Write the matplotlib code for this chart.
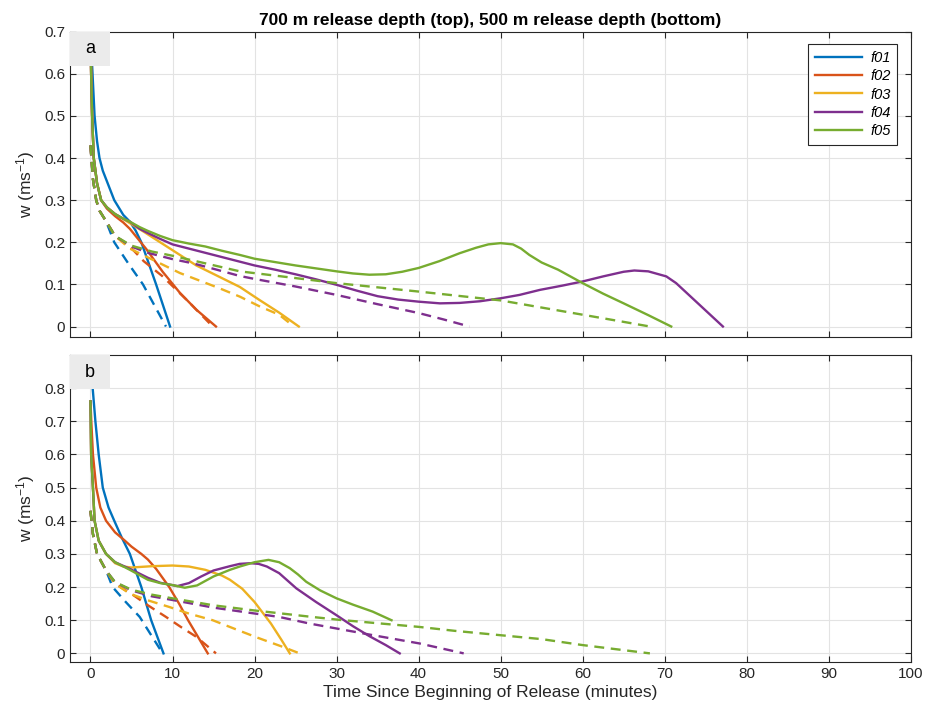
import numpy as np
import matplotlib
matplotlib.use("Agg")
import matplotlib.pyplot as plt
from matplotlib.patches import Rectangle

plt.rcParams['font.family'] = ['Liberation Sans', 'DejaVu Sans']
plt.rcParams['mathtext.fontset'] = 'custom'
plt.rcParams['mathtext.rm'] = 'Liberation Sans'
plt.rcParams['mathtext.default'] = 'regular'

# MATLAB default colours
colors = ['#0072BD', '#D95319', '#EDB120', '#7E2F8E', '#77AC30']
names = ['f01', 'f02', 'f03', 'f04', 'f05']

# ---- 700 m release depth (top panel) ----
# solid lines
t700_f01 = [0, 0.25, 0.5, 0.8, 1.1, 1.5, 2.0, 2.9, 4.0, 4.8, 5.5, 6.2, 8.0, 9.7]
w700_f01 = [0.70, 0.60, 0.50, 0.44, 0.40, 0.37, 0.345, 0.30, 0.265, 0.249, 0.228, 0.20, 0.10, 0.0]
t700_f02 = [0, 0.08, 0.2, 0.4, 0.8, 1.3, 2.0, 3.0, 4.0, 4.8, 5.8, 6.8, 8.8, 10.9, 12.9, 15.3]
w700_f02 = [0.70, 0.60, 0.50, 0.40, 0.34, 0.30, 0.28, 0.262, 0.247, 0.232, 0.208, 0.184, 0.13, 0.08, 0.04, 0.0]
t700_f03 = [0, 0.08, 0.2, 0.4, 0.8, 1.3, 2.0, 3.0, 4.0, 5.0, 6.5, 8.5, 10.5, 12.9, 15.5, 18.2, 20.6, 23.0, 25.4]
w700_f03 = [0.70, 0.60, 0.50, 0.40, 0.34, 0.30, 0.283, 0.267, 0.255, 0.243, 0.225, 0.20, 0.175, 0.145, 0.12, 0.094, 0.063, 0.033, 0.0]
t700_f04 = [0, 0.08, 0.2, 0.4, 0.8, 1.3, 2.0, 3.0, 4.0, 4.8, 6.0, 7.0, 8.5, 10, 12, 14, 16, 18.2, 20, 22.5, 25, 27.5,
            30, 32.5, 35, 37.5, 40, 42.6, 45, 47.5, 50, 52.3, 54.8, 57.5, 60, 62.5, 65, 66.3, 68, 70.2, 71.4, 74.5, 77.1]
w700_f04 = [0.70, 0.60, 0.50, 0.40, 0.34, 0.30, 0.283, 0.267, 0.256, 0.249, 0.232, 0.222, 0.208, 0.195, 0.185, 0.175,
            0.165, 0.154, 0.145, 0.135, 0.124, 0.112, 0.099, 0.085, 0.072, 0.064, 0.059, 0.055, 0.056, 0.06, 0.067,
            0.075, 0.087, 0.097, 0.107, 0.119, 0.13, 0.133, 0.131, 0.119, 0.103, 0.047, 0.0]
t700_f05 = [0, 0.08, 0.2, 0.4, 0.8, 1.3, 2.0, 3.0, 4.0, 4.8, 6.0, 7.0, 8.5, 10, 12, 14, 16, 18.2, 20, 22.5, 25, 27.5,
            30, 32, 34, 36, 38, 40, 42.5, 45, 47, 48.5, 50, 51.5, 52.5, 53.5, 55, 57, 60, 62.5, 65, 68, 70.8]
w700_f05 = [0.70, 0.60, 0.50, 0.40, 0.34, 0.30, 0.283, 0.267, 0.256, 0.249, 0.236, 0.227, 0.215, 0.205, 0.197, 0.19,
            0.18, 0.17, 0.161, 0.153, 0.145, 0.138, 0.131, 0.126, 0.123, 0.124, 0.13, 0.139, 0.155, 0.174, 0.187,
            0.195, 0.198, 0.195, 0.185, 0.17, 0.152, 0.135, 0.103, 0.078, 0.055, 0.027, 0.0]
# dashed lines
d700_t01 = [0, 0.3, 0.7, 1.1, 1.9, 2.9, 4.6, 6.4, 9.2]
d700_w01 = [0.43, 0.35, 0.30, 0.275, 0.25, 0.20, 0.15, 0.10, 0.0]
d700_t02 = [0, 0.3, 0.7, 1.1, 1.9, 3.0, 4.8, 6.5, 8.8, 12.1, 14.9]
d700_w02 = [0.43, 0.35, 0.30, 0.275, 0.25, 0.215, 0.19, 0.155, 0.119, 0.056, 0.0]
d700_t03 = [0, 0.3, 0.7, 1.1, 1.9, 3.0, 4.8, 6.8, 10.9, 15.7, 18.2, 20.6, 23.0, 24.8]
d700_w03 = [0.43, 0.35, 0.30, 0.275, 0.25, 0.215, 0.185, 0.166, 0.127, 0.091, 0.071, 0.048, 0.028, 0.0]
d700_t04 = [0, 0.3, 0.7, 1.1, 1.9, 3.0, 5.0, 7.0, 10, 12.5, 15, 18.2, 20, 25, 30, 35, 40, 43, 46.2]
d700_w04 = [0.43, 0.35, 0.30, 0.275, 0.25, 0.215, 0.19, 0.175, 0.16, 0.15, 0.137, 0.12, 0.113, 0.095, 0.075,
            0.053, 0.032, 0.017, 0.0]
d700_t05 = [0, 0.3, 0.7, 1.1, 1.9, 3.0, 5.0, 7.5, 10, 14, 18.2, 25, 30, 40, 50, 55, 60, 65, 68.2]
d700_w05 = [0.43, 0.35, 0.30, 0.275, 0.25, 0.215, 0.192, 0.178, 0.168, 0.15, 0.131, 0.115, 0.103, 0.083, 0.062,
            0.045, 0.028, 0.011, 0.0]

# ---- 500 m release depth (bottom panel) ----
t500_f01 = [0, 0.2, 0.6, 1.0, 1.5, 2.2, 2.9, 3.8, 4.8, 5.5, 6.2, 7.4, 8.9]
w500_f01 = [0.95, 0.82, 0.70, 0.60, 0.50, 0.44, 0.40, 0.35, 0.30, 0.25, 0.20, 0.10, 0.0]
t500_f02 = [0, 0.1, 0.3, 0.7, 1.2, 1.9, 3.0, 4.1, 5.0, 6.2, 7.0, 8.0, 9.6, 10.8, 11.9, 13.1, 14.3]
w500_f02 = [0.76, 0.70, 0.60, 0.50, 0.44, 0.40, 0.365, 0.342, 0.322, 0.30, 0.283, 0.255, 0.20, 0.15, 0.10, 0.05, 0.0]
t500_f03 = [0, 0.08, 0.3, 0.5, 1.0, 1.9, 3.0, 4.0, 5.0, 7.5, 10, 12, 14, 16, 17, 18.5, 20, 22, 23.3, 24.3]
w500_f03 = [0.76, 0.60, 0.50, 0.40, 0.34, 0.30, 0.272, 0.262, 0.259, 0.263, 0.265, 0.262, 0.252, 0.235, 0.222,
            0.195, 0.155, 0.09, 0.04, 0.0]
t500_f04 = [0, 0.08, 0.3, 0.5, 1.0, 1.9, 3.0, 4.8, 7.0, 8.5, 10.6, 12, 13.5, 15, 17, 18.2, 19.5, 20.5, 21.5, 23,
            25.1, 27.5, 30, 32, 34, 36, 37.7]
w500_f04 = [0.76, 0.60, 0.50, 0.40, 0.34, 0.30, 0.275, 0.255, 0.228, 0.213, 0.203, 0.212, 0.232, 0.25, 0.263, 0.27,
            0.272, 0.27, 0.262, 0.242, 0.196, 0.155, 0.115, 0.082, 0.052, 0.025, 0.0]
t500_f05 = [0, 0.08, 0.3, 0.5, 1.0, 1.9, 3.0, 4.8, 7.0, 8.5, 10, 11.5, 13, 15, 17, 18.2, 20, 21.7, 23, 24.3, 25.3,
            26.3, 28, 30, 32, 34.4, 36.7]
w500_f05 = [0.76, 0.60, 0.50, 0.40, 0.34, 0.30, 0.275, 0.252, 0.222, 0.212, 0.206, 0.198, 0.205, 0.232, 0.252, 0.262,
            0.275, 0.282, 0.275, 0.257, 0.238, 0.216, 0.19, 0.166, 0.147, 0.126, 0.10]
d500_t01 = [0, 0.3, 0.8, 1.9, 2.7, 4.3, 6.0, 8.8]
d500_w01 = [0.43, 0.36, 0.30, 0.25, 0.20, 0.155, 0.11, 0.0]
d500_t02 = [0, 0.3, 0.8, 1.9, 3.0, 5.2, 7.0, 9.2, 11.0, 12.9, 15.3]
d500_w02 = [0.43, 0.36, 0.30, 0.25, 0.21, 0.176, 0.145, 0.11, 0.08, 0.05, 0.0]
d500_t03 = [0, 0.3, 0.8, 1.9, 3.0, 4.8, 7.0, 9.6, 12.0, 14.9, 18.2, 20.4, 23.4, 25.5]
d500_w03 = [0.43, 0.36, 0.30, 0.25, 0.21, 0.18, 0.16, 0.14, 0.12, 0.10, 0.068, 0.047, 0.02, 0.0]
d500_t04 = [0, 0.3, 0.8, 1.9, 3.0, 5.0, 7.5, 10, 15, 19.8, 23, 26.7, 30, 34.4, 40.1, 45.5]
d500_w04 = [0.43, 0.36, 0.30, 0.25, 0.215, 0.19, 0.172, 0.161, 0.138, 0.121, 0.11, 0.09, 0.075, 0.055, 0.03, 0.0]
d500_t05 = [0, 0.3, 0.8, 1.9, 3.0, 5.0, 7.5, 10, 15, 19.8, 27, 30.4, 40, 44.4, 49.9, 55, 60, 68.2]
d500_w05 = [0.43, 0.36, 0.30, 0.25, 0.215, 0.192, 0.177, 0.166, 0.145, 0.13, 0.11, 0.101, 0.08, 0.068, 0.055,
            0.043, 0.025, 0.0]

top_solid = [(t700_f01, w700_f01), (t700_f02, w700_f02), (t700_f03, w700_f03), (t700_f04, w700_f04), (t700_f05, w700_f05)]
top_dash = [(d700_t01, d700_w01), (d700_t02, d700_w02), (d700_t03, d700_w03), (d700_t04, d700_w04), (d700_t05, d700_w05)]
bot_solid = [(t500_f01, w500_f01), (t500_f02, w500_f02), (t500_f03, w500_f03), (t500_f04, w500_f04), (t500_f05, w500_f05)]
bot_dash = [(d500_t01, d500_w01), (d500_t02, d500_w02), (d500_t03, d500_w03), (d500_t04, d500_w04), (d500_t05, d500_w05)]

fig = plt.figure(figsize=(9.28, 7.13), dpi=100)
ax1 = fig.add_axes([0.0754, 0.5273, 0.9060, 0.4282])
ax2 = fig.add_axes([0.0754, 0.0720, 0.9060, 0.4301])

dash = (0, (4.2, 2.8))
for ax, solid, dashed, lab in [(ax1, top_solid, top_dash, 'a'), (ax2, bot_solid, bot_dash, 'b')]:
    for i in range(5):
        ax.plot(solid[i][0], solid[i][1], color=colors[i], lw=1.7, label=names[i])
    for i in range(5):
        ax.plot(dashed[i][0], dashed[i][1], color=colors[i], lw=1.7, linestyle=dash)
    ax.set_xlim(-2.5, 100)
    ax.set_xticks(np.arange(0, 101, 10))
    ax.grid(True, color='#e3e3e3', lw=0.8)
    ax.set_axisbelow(True)
    ax.tick_params(direction='in', top=True, right=True, length=4, width=0.8,
                   colors='#262626', labelsize=11)
    for s in ax.spines.values():
        s.set_color('#262626')
        s.set_linewidth(0.8)
    ax.set_ylabel('w (ms$^{-1}$)', fontsize=12.5, color='#262626', labelpad=5)
    # label box in the top-left corner
    bh = 34 / 305.3
    ax.add_patch(Rectangle((0, 1 - bh), 40 / 840.7, bh, transform=ax.transAxes,
                           facecolor='#ebebeb', edgecolor='none', zorder=5, clip_on=False))
    ax.text(20 / 840.7, 1 - bh / 2, lab, transform=ax.transAxes, ha='center', va='center',
            fontsize=13, color='black', zorder=6)

ax1.set_ylim(-0.025, 0.7)
ax1.set_yticks(np.arange(0, 0.71, 0.1))
ax1.set_yticklabels(['0', '0.1', '0.2', '0.3', '0.4', '0.5', '0.6', '0.7'])
ax1.tick_params(labelbottom=False)
ax2.set_ylim(-0.025, 0.9)
ax2.set_yticks(np.arange(0, 0.81, 0.1))
ax2.set_yticklabels(['0', '0.1', '0.2', '0.3', '0.4', '0.5', '0.6', '0.7', '0.8'])
ax2.set_xlabel('Time Since Beginning of Release (minutes)', fontsize=12.5, color='#262626', labelpad=3)

leg = ax1.legend(loc='upper right', bbox_to_anchor=(0.984, 0.959), borderaxespad=0,
                 prop={'style': 'italic', 'size': 10.5}, fancybox=False, framealpha=1,
                 edgecolor='#262626', handlelength=3.2, labelspacing=0.3, borderpad=0.45,
                 handletextpad=0.6)
leg.get_frame().set_linewidth(0.8)

ax1.set_title('700 m release depth (top), 500 m release depth (bottom)', fontsize=12.5,
              fontweight='bold', pad=5)

fig.savefig('out.png', dpi=100)
